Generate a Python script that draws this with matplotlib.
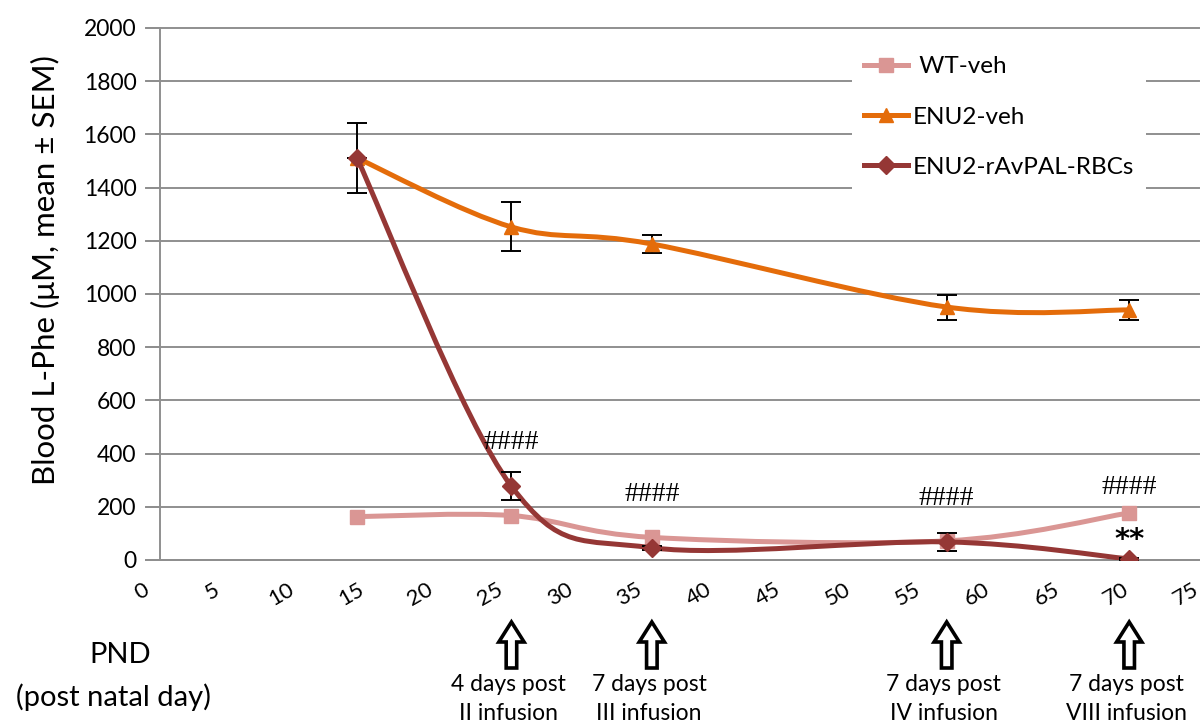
import numpy as np
import matplotlib
matplotlib.use('Agg')
import matplotlib.pyplot as plt
import matplotlib.transforms as mtransforms
from matplotlib.path import Path
from matplotlib.patches import PathPatch, FancyArrow
from matplotlib.lines import Line2D

plt.rcParams['font.family'] = ['Lato', 'DejaVu Sans']

# blood L-Phe by post natal day
pnd = [15, 26, 36, 57, 70]
wt_veh = [163, 167, 85, 72, 177]
enu2_veh = [1511, 1252, 1188, 951, 940]
enu2_veh_sem = [133, 92, 32, 47, 36]
enu2_pal = [1511, 277, 46, 68, 4]
enu2_pal_sem = [0, 53, 8, 34, 4]

series_names = [' WT-veh', 'ENU2-veh', 'ENU2-rAvPAL-RBCs']
x_ticks = list(range(0, 80, 5))

# significance marks
sig_x = [26, 36, 57, 70, 70]
sig_y = [440, 248, 233, 274, 101]
sig_text = ['####', '####', '####', '####', '**']

# infusion arrows under the axis
infusion_x = [26, 36, 57, 70]
infusion_text = ['4 days post\nII infusion', '7 days post\nIII infusion',
                 '7 days post\nIV infusion', '7 days post\nVIII infusion']

c_wt = '#DA9694'
c_veh = '#E46C0A'
c_pal = '#953735'
c_grid = '#8f8f8f'


def smooth_path(x, y):
    #Bezier path through the points, Catmull-Rom style control points
    pts = np.column_stack([x, y]).astype(float)
    n = len(pts)
    verts = [pts[0]]
    codes = [Path.MOVETO]
    for i in range(n - 1):
        p0 = pts[i - 1] if i > 0 else pts[i]
        p1 = pts[i]
        p2 = pts[i + 1]
        p3 = pts[i + 2] if i + 2 < n else pts[i + 1]
        verts += [p1 + (p2 - p0) / 6, p2 - (p3 - p1) / 6, p2]
        codes += [Path.CURVE4] * 3
    return Path(verts, codes)


def add_series(ax, x, y, color, marker, ms, z, sem=None):
    ax.add_patch(PathPatch(smooth_path(x, y), fill=False, edgecolor=color,
                           lw=3.6, capstyle='round', zorder=z))
    if sem is not None:
        ax.errorbar(x, y, yerr=sem, fmt='none', ecolor='black', elinewidth=1.4,
                    capsize=7, capthick=1.4, zorder=z + 0.1)
    ax.plot(x, y, ls='none', marker=marker, ms=ms, color=color,
            mec=color, zorder=z + 0.2)


fig = plt.figure(figsize=(12.01, 7.22), dpi=100)
ax = fig.add_axes([146.4 / 1201, 162 / 722, 1053 / 1201, 532 / 722])
ax.set_xlim(0, 75)
ax.set_ylim(0, 2000)

for side in ['top', 'right']:
    ax.spines[side].set_visible(False)
ax.spines['left'].set_position(('data', 0.97))
ax.spines['left'].set_color(c_grid)
ax.spines['left'].set_linewidth(1.4)
ax.spines['bottom'].set_color(c_grid)
ax.spines['bottom'].set_linewidth(1.4)

ax.set_yticks(range(0, 2001, 200))
ax.yaxis.grid(True, color=c_grid, lw=1.4)
ax.set_axisbelow(True)
for gl in ax.get_ygridlines():
    gl.set_clip_on(False)
ax.tick_params(axis='y', direction='out', length=10, width=1.4, color=c_grid,
               labelsize=16.5, pad=7)

ax.set_xticks(x_ticks)
ax.set_xticklabels([str(t) for t in x_ticks], rotation=30, ha='center')
ax.tick_params(axis='x', length=0, labelsize=16, pad=14)
# nudge the slanted labels left, a bit more towards the right end
for t, lab in zip(x_ticks, ax.get_xticklabels()):
    shift = mtransforms.ScaledTranslation((-4 - 0.13 * t) / 100, 0,
                                          fig.dpi_scale_trans)
    lab.set_transform(lab.get_transform() + shift)

add_series(ax, pnd, wt_veh, c_wt, 's', 10, 3)
add_series(ax, pnd, enu2_veh, c_veh, '^', 10, 4, enu2_veh_sem)
add_series(ax, pnd, enu2_pal, c_pal, 'D', 9, 5, enu2_pal_sem)

for x, y, t in zip(sig_x, sig_y, sig_text):
    if t == '**':
        ax.text(x, y - 25, t, ha='center', va='center', fontsize=21,
                family='DejaVu Sans', fontweight='bold', zorder=6)
    else:
        ax.text(x, y, t, ha='center', va='center', fontsize=20,
                family='Liberation Serif', zorder=6)

handles = [Line2D([], [], color=c_wt, lw=3.6, marker='s', ms=10),
           Line2D([], [], color=c_veh, lw=3.6, marker='^', ms=10),
           Line2D([], [], color=c_pal, lw=3.6, marker='D', ms=9)]
ax.legend(handles, series_names, loc='upper left',
          bbox_to_anchor=(840 / 1201, 690 / 722), bbox_transform=fig.transFigure,
          frameon=True, fancybox=False, edgecolor='none', facecolor='white',
          framealpha=1, fontsize=17.5, handlelength=1.8, handletextpad=0.2,
          labelspacing=1.2, borderpad=0.5)

# hollow arrows and captions below the axis
blend = mtransforms.blended_transform_factory(ax.transData, fig.transFigure)
for x, t in zip(infusion_x, infusion_text):
    ax.add_patch(FancyArrow(x, 54 / 722, 0, 46 / 722, width=0.75,
                            head_width=1.8, head_length=20 / 722,
                            length_includes_head=True, transform=blend,
                            facecolor='white', edgecolor='black', lw=2.6,
                            clip_on=False))
    ax.text(x - 0.2, 48 / 722, t, transform=blend, ha='center', va='top',
            fontsize=16.5, linespacing=1.45)

fig.text(45 / 1201, 1 - 270 / 722, 'Blood L-Phe (μM, mean ± SEM)',
         rotation=90, ha='center', va='center', fontsize=22.5)
fig.text(120 / 1201, 1 - 655 / 722, 'PND', ha='center', va='center', fontsize=21)
fig.text(113 / 1201, 1 - 697 / 722, '(post natal day)', ha='center',
         va='center', fontsize=21)

fig.savefig('out.png', dpi=100)
